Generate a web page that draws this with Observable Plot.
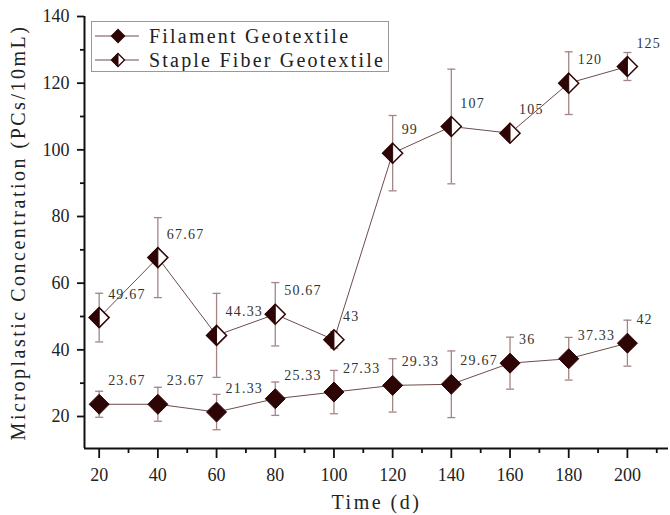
<!DOCTYPE html>
<html>
<head>
<meta charset="utf-8">
<script src="https://cdn.jsdelivr.net/npm/d3@7"></script>
<script src="https://cdn.jsdelivr.net/npm/@observablehq/plot@0.6"></script>
<style>
  html, body { margin: 0; padding: 0; background: #fff; }
  #wrap { position: relative; width: 670px; height: 515px; overflow: hidden; }
  g[aria-label="x-axis label"], g[aria-label="y-axis label"] { letter-spacing: 2.5px; }
  g[aria-label="text"] { letter-spacing: 1.2px; }
  #legend { position: absolute; left: 91px; top: 21px; width: 298px; height: 51px;
            border: 1px solid #999; background: #fff; box-sizing: border-box; }
  #legend text { font-family: "Liberation Serif", serif; font-size: 20px; letter-spacing: 2.2px; fill: #222; }
</style>
</head>
<body>
<div id="wrap"><div id="chart"></div><div id="legend"></div></div>
<script>
// ---- data ----
const days = [20, 40, 60, 80, 100, 120, 140, 160, 180, 200];
const filament = [23.67, 23.67, 21.33, 25.33, 27.33, 29.33, 29.67, 36, 37.33, 42];
const filamentErr = [3.9, 5.1, 5.3, 5.0, 6.5, 8.0, 10.0, 7.8, 6.4, 6.9];
const staple = [49.67, 67.67, 44.33, 50.67, 43, 99, 107, 105, 120, 125];
const stapleErr = [7.3, 12.0, 12.6, 9.5, 2.5, 11.3, 17.2, 1.0, 9.4, 4.2];
const seriesNames = ["Filament Geotextile", "Staple Fiber Geotextile"];
const xTicks = [20, 40, 60, 80, 100, 120, 140, 160, 180, 200];
const xMinorTicks = [30, 50, 70, 90, 110, 130, 150, 170, 190, 210];
const yTicks = [20, 40, 60, 80, 100, 120, 140];
const yMinorTicks = [30, 50, 70, 90, 110, 130];
const xDomain = [15, 214];
const yDomain = [10.4, 140];
const xTitle = "Time (d)";
const yTitle = "Microplastic Concentration (PCs/10mL)";

// ---- styles ----
const dark = "#2e0505";
const lineColor = "#6e4c4c";
const errColor = "#a38585";

const filData = days.map((d, i) => ({x: d, v: filament[i], e: filamentErr[i]}));
const staData = days.map((d, i) => ({x: d, v: staple[i], e: stapleErr[i]}));

// custom symbols (size = pi r^2)
const rad = size => Math.sqrt(size / Math.PI);
const diamondSym = {draw(ctx, size) { const s = rad(size);
  ctx.moveTo(0, -s); ctx.lineTo(s, 0); ctx.lineTo(0, s); ctx.lineTo(-s, 0); ctx.closePath(); }};
const leftHalfSym = {draw(ctx, size) { const s = rad(size);
  ctx.moveTo(0, -s); ctx.lineTo(0, s); ctx.lineTo(-s, 0); ctx.closePath(); }};
const capSym = {draw(ctx, size) { const s = rad(size);
  ctx.moveTo(-s, 0); ctx.lineTo(s, 0); }};

function errMarks(data) {
  return [
    Plot.ruleX(data, {x: "x", y1: d => d.v - d.e, y2: d => d.v + d.e, stroke: errColor, strokeWidth: 1.3}),
    Plot.dot(data, {x: "x", y: d => d.v - d.e, symbol: capSym, r: 4, stroke: errColor, strokeWidth: 1.3, fill: "none"}),
    Plot.dot(data, {x: "x", y: d => d.v + d.e, symbol: capSym, r: 4, stroke: errColor, strokeWidth: 1.3, fill: "none"})
  ];
}
function labelMarks(data) {
  return Plot.text(data, {x: "x", y: "v", text: d => String(d.v), dx: 9, dy: -19,
    textAnchor: "start", lineAnchor: "bottom", fontSize: 14, fill: "#333", fontFamily: "Liberation Serif"});
}

const chart = Plot.plot({
  width: 670, height: 515,
  marginLeft: 84, marginRight: 2, marginTop: 16, marginBottom: 67,
  style: {fontFamily: "Liberation Serif", background: "white", color: "#222"},
  x: {type: "linear", domain: xDomain},
  y: {type: "linear", domain: yDomain},
  marks: [
    Plot.axisX(xMinorTicks, {tickSize: 5, tickFormat: () => "", label: null, strokeWidth: 1.8, stroke: "#111"}),
    Plot.axisX(xTicks, {tickSize: 10, tickPadding: 10, fontSize: 18, strokeWidth: 1.8, stroke: "#111",
      label: xTitle, labelAnchor: "center", labelOffset: 60, labelArrow: "none"}),
    Plot.axisY(yMinorTicks, {tickSize: 4, tickFormat: () => "", label: null, strokeWidth: 1.8, stroke: "#111"}),
    Plot.axisY(yTicks, {tickSize: 7, tickPadding: 8, fontSize: 18, strokeWidth: 1.8, stroke: "#111",
      label: yTitle, labelAnchor: "center", labelOffset: 74, labelArrow: "none"}),
    Plot.ruleY([yDomain[0]], {stroke: "#111", strokeWidth: 2}),
    Plot.ruleX([xDomain[0]], {stroke: "#111", strokeWidth: 2}),
    ...errMarks(staData),
    ...errMarks(filData),
    Plot.line(staData, {x: "x", y: "v", stroke: lineColor, strokeWidth: 1}),
    Plot.line(filData, {x: "x", y: "v", stroke: lineColor, strokeWidth: 1}),
    Plot.dot(staData, {x: "x", y: "v", symbol: diamondSym, r: 10, fill: "white", stroke: dark, strokeWidth: 1.5}),
    Plot.dot(staData, {x: "x", y: "v", symbol: leftHalfSym, r: 10, fill: dark, stroke: dark, strokeWidth: 1}),
    Plot.dot(filData, {x: "x", y: "v", symbol: diamondSym, r: 10, fill: dark, stroke: dark, strokeWidth: 1}),
    labelMarks(staData),
    labelMarks(filData)
  ]
});
document.getElementById("chart").append(chart);
// axis title font sizes
d3.select(chart).selectAll('g[aria-label="x-axis label"], g[aria-label="y-axis label"]').attr("font-size", 20);

// ---- legend ----
const lg = d3.select("#legend").append("svg").attr("width", 296).attr("height", 49);
const rows = [{y: 14, half: false}, {y: 38, half: true}];
rows.forEach((r, i) => {
  const g = lg.append("g").attr("transform", `translate(0,${r.y})`);
  g.append("line").attr("x1", 3).attr("x2", 47).attr("stroke", lineColor).attr("stroke-width", 1);
  const s = 6.5;
  const dpath = `M0,${-s}L${s},0L0,${s}L${-s},0Z`;
  const hpath = `M0,${-s}L0,${s}L${-s},0Z`;
  g.append("path").attr("transform", "translate(26,0)").attr("d", dpath)
    .attr("fill", r.half ? "white" : dark).attr("stroke", dark).attr("stroke-width", 1.3);
  if (r.half) g.append("path").attr("transform", "translate(26,0)").attr("d", hpath).attr("fill", dark).attr("stroke", dark);
  g.append("text").attr("x", 57).attr("dy", "0.35em").text(seriesNames[i]);
});
</script>
</body>
</html>
